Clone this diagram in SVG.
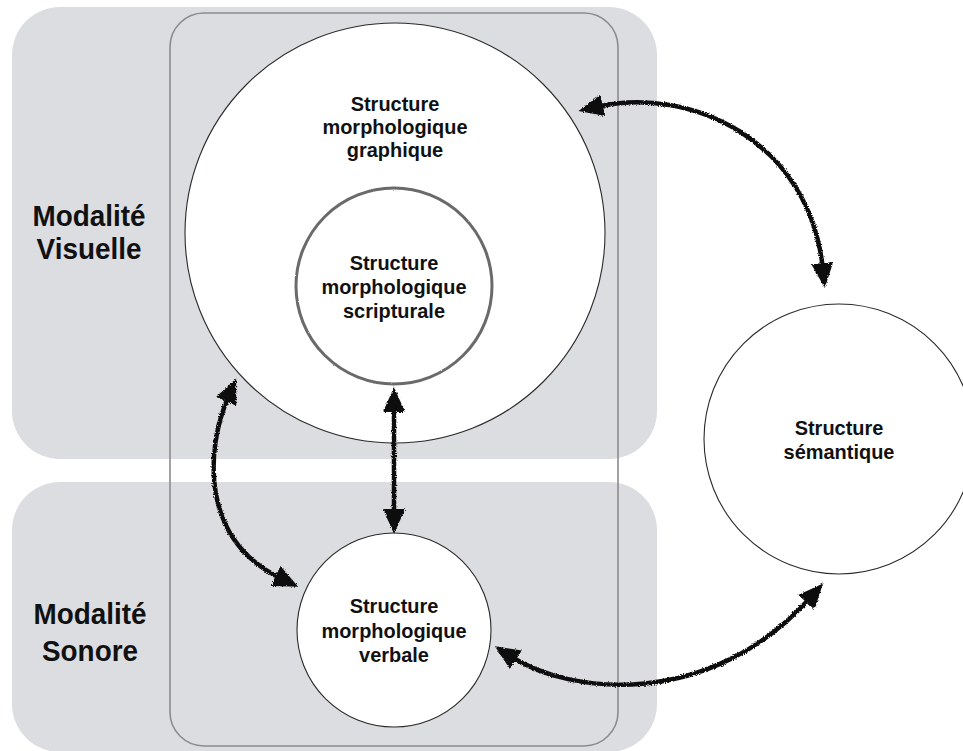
<svg xmlns="http://www.w3.org/2000/svg" width="963" height="751" viewBox="0 0 963 751">
<style>
.zone{fill:#dcdde0;stroke:none}
.frame{fill:none;stroke:#8c8c90;stroke-width:1.6}
.node{fill:#ffffff;stroke:#2a2a2a;stroke-width:1.1}
.inner{fill:#ffffff;stroke:#6a6a6a;stroke-width:3}
.lbl{font-family:"Liberation Sans",Arial,Helvetica,sans-serif;font-weight:bold;font-size:21px;fill:#111;text-anchor:middle}
.mod{font-family:"Liberation Sans",Arial,Helvetica,sans-serif;font-weight:bold;font-size:30px;fill:#111;text-anchor:middle}
.arrow{fill:none;stroke:#111;stroke-width:4.5;stroke-linecap:butt;marker-start:url(#head);marker-end:url(#head)}
</style>
<defs>
<marker id="head" viewBox="0 0 25 22" refX="7" refY="11" markerWidth="25" markerHeight="22" markerUnits="userSpaceOnUse" orient="auto-start-reverse">
<path d="M0,0 L25,11 L0,22 z" fill="#111"/>
</marker>
<filter id="rough" x="-5%" y="-5%" width="110%" height="110%">
<feTurbulence type="fractalNoise" baseFrequency="0.9" numOctaves="2" seed="3" result="n"/>
<feDisplacementMap in="SourceGraphic" in2="n" scale="3.2" xChannelSelector="R" yChannelSelector="G"/>
</filter>
<filter id="rough2" x="-5%" y="-5%" width="110%" height="110%">
<feTurbulence type="fractalNoise" baseFrequency="0.6" numOctaves="2" seed="7" result="n"/>
<feDisplacementMap in="SourceGraphic" in2="n" scale="1.6" xChannelSelector="R" yChannelSelector="G"/>
</filter>
</defs>

<g id="zone-visuelle">
<rect class="zone" x="12" y="7" width="645" height="452" rx="48" ry="48"/>
<text class="mod" transform="translate(89,226) scale(0.93,1)">Modalité</text>
<text class="mod" transform="translate(89,259) scale(0.93,1)">Visuelle</text>
</g>
<g id="zone-sonore">
<rect class="zone" x="12" y="482" width="645" height="270" rx="48" ry="48"/>
<text class="mod" transform="translate(90,624) scale(0.93,1)">Modalité</text>
<text class="mod" transform="translate(90,661) scale(0.93,1)">Sonore</text>
</g>
<g id="frame-morphologique">
<rect class="frame" x="170" y="13" width="448" height="733" rx="34" ry="34"/>
</g>

<g id="node-graphique">
<circle class="node" cx="395" cy="233" r="210"/>
<text class="lbl" transform="translate(395,111) scale(0.95,1)">Structure</text>
<text class="lbl" transform="translate(395,134) scale(0.95,1)">morphologique</text>
<text class="lbl" transform="translate(395,157) scale(0.95,1)">graphique</text>
</g>
<g id="node-scripturale">
<circle class="inner" cx="394" cy="286" r="98" filter="url(#rough2)"/>
<text class="lbl" transform="translate(394,270) scale(0.95,1)">Structure</text>
<text class="lbl" transform="translate(394,294) scale(0.95,1)">morphologique</text>
<text class="lbl" transform="translate(394,318) scale(0.95,1)">scripturale</text>
</g>
<g id="node-verbale">
<circle class="node" cx="394" cy="630" r="97"/>
<text class="lbl" transform="translate(394,613) scale(0.95,1)">Structure</text>
<text class="lbl" transform="translate(394,638) scale(0.95,1)">morphologique</text>
<text class="lbl" transform="translate(394,662) scale(0.95,1)">verbale</text>
</g>
<g id="node-semantique">
<circle class="node" cx="839" cy="439" r="135"/>
<text class="lbl" transform="translate(839,435) scale(0.95,1)">Structure</text>
<text class="lbl" transform="translate(839,459) scale(0.95,1)">sémantique</text>
</g>

<g id="connectors" filter="url(#rough)">
<path class="arrow" d="M596,107 C690,85 810,140 823,270"/>
<path class="arrow" d="M229,395 C205,450 200,540 282,579"/>
<path class="arrow" d="M394,405 L394,516"/>
<path class="arrow" d="M510,656 C570,695 710,710 811,597"/>
</g>
</svg>
